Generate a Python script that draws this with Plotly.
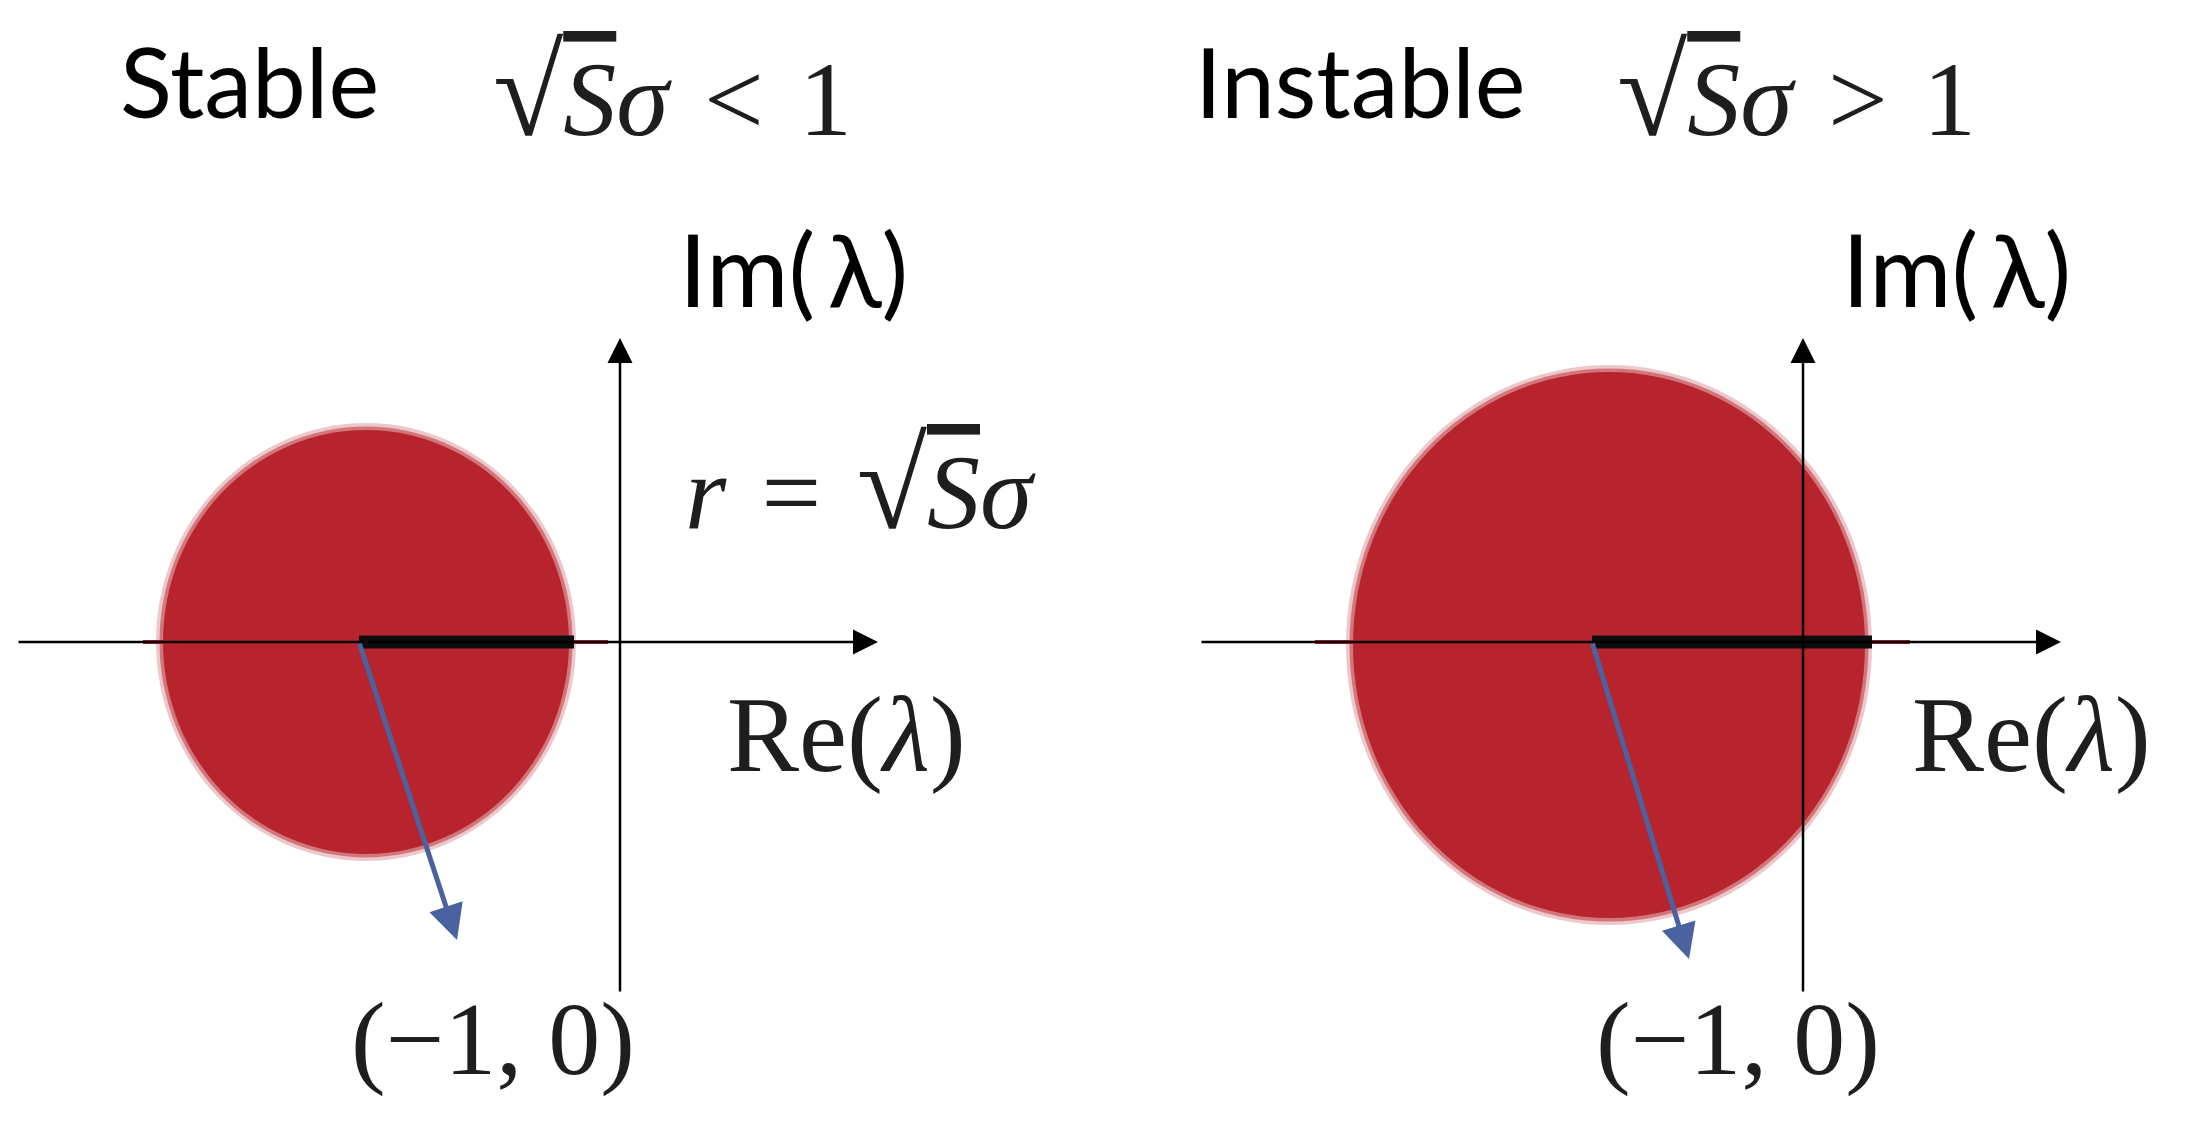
import plotly.graph_objects as go

# ---------------- data (1 unit = 100 px of the original, origin = axis crossing) ----
panel_names = ["Stable", "Instable"]
relations = ["<", ">"]
disk_cx = [-2.54, -1.94]
disk_cy = [0.0, -0.03]
disk_rx = [2.03, 2.56]
disk_ry = [2.12, 2.73]
radius_bar_x0 = [-2.61, -2.11]
radius_bar_x1 = [-0.46, 0.69]
real_line_x0 = [-4.77, -4.88]
real_line_x1 = [-0.12, 1.07]
arrow_tip_x = [-1.63, -1.14]
arrow_tip_y = [-2.98, -3.17]
axis_x_ext = [-6.03, 2.58]
axis_y_ext = [-3.51, 3.04]
point_label = "(−1, 0)"

SQRT_S_SIGMA = ('<span style="font-size:128px">√</span>'
                '<span style="text-decoration:overline"><i>S</i></span><i>σ</i>')
conditions = [SQRT_S_SIGMA + "\u2004" + rel + "\u20041" for rel in relations]
radius_label = "<i>r</i>\u2004=\u2004" + SQRT_S_SIGMA

RED = "#b8242e"
BLUE = "#4a62a0"
SANS = "Lato, 'Noto Sans', sans-serif"
SERIF = "'Liberation Serif', 'DejaVu Serif', serif"
TXT = "#1e1e1e"

W, H = 2178, 1114
fig = go.Figure()

xrefs = ["x", "x2"]
yrefs = ["y", "y2"]

shapes = []
annotations = []

for i in range(2):
    xr, yr = xrefs[i], yrefs[i]
    # eigenvalue disk (soft speckled rim + dense core)
    for pad, op in ((0.07, 0.25), (0.035, 0.5)):
        shapes.append(dict(type="circle", xref=xr, yref=yr, layer="below",
                           x0=disk_cx[i] - disk_rx[i] - pad, x1=disk_cx[i] + disk_rx[i] + pad,
                           y0=disk_cy[i] - disk_ry[i] - pad, y1=disk_cy[i] + disk_ry[i] + pad,
                           fillcolor=RED, opacity=op, line=dict(width=0)))
    shapes.append(dict(type="circle", xref=xr, yref=yr, layer="below",
                       x0=disk_cx[i] - disk_rx[i], x1=disk_cx[i] + disk_rx[i],
                       y0=disk_cy[i] - disk_ry[i], y1=disk_cy[i] + disk_ry[i],
                       fillcolor=RED, line=dict(width=0)))
    # real eigenvalues along the axis
    fig.add_trace(go.Scatter(x=[real_line_x0[i], real_line_x1[i]], y=[0, 0], mode="lines",
                             line=dict(color=RED, width=4), xaxis=xr, yaxis=yr,
                             hoverinfo="skip", showlegend=False))
    # radius bar
    fig.add_trace(go.Scatter(x=[radius_bar_x0[i], radius_bar_x1[i]], y=[0, 0], mode="lines",
                             line=dict(color="#0d0d0d", width=13), xaxis=xr, yaxis=yr,
                             hoverinfo="skip", showlegend=False))
    # axes with arrows
    annotations.append(dict(xref=xr, yref=yr, axref=xr, ayref=yr,
                            x=axis_x_ext[1], y=0, ax=axis_x_ext[0], ay=0, text="",
                            showarrow=True, arrowhead=2, arrowsize=2.0, arrowwidth=2.5,
                            arrowcolor="black"))
    annotations.append(dict(xref=xr, yref=yr, axref=xr, ayref=yr,
                            x=0, y=axis_y_ext[1], ax=0, ay=axis_y_ext[0], text="",
                            showarrow=True, arrowhead=2, arrowsize=2.0, arrowwidth=2.5,
                            arrowcolor="black"))
    # blue arrow
    annotations.append(dict(xref=xr, yref=yr, axref=xr, ayref=yr,
                            x=arrow_tip_x[i], y=arrow_tip_y[i], ax=radius_bar_x0[i], ay=0,
                            text="", showarrow=True, arrowhead=2, arrowsize=1.4,
                            arrowwidth=5, arrowcolor=BLUE))

# text labels
title_x = [-3.71, -4.43]
cond_x = [0.52, -0.07]
im_x = [1.73, 1.53]
re_x = [2.26, 2.28]
pt_x = [-1.27, -0.65]
for i in range(2):
    xr, yr = xrefs[i], yrefs[i]
    annotations.append(dict(xref=xr, yref=yr, x=title_x[i], y=5.62, text=panel_names[i],
                            showarrow=False, xanchor="center", yanchor="middle",
                            font=dict(family=SANS, size=96, color="black")))
    annotations.append(dict(xref=xr, yref=yr, x=cond_x[i], y=5.50, text=conditions[i],
                            showarrow=False, xanchor="center", yanchor="middle",
                            font=dict(family=SERIF, size=106, color=TXT)))
    annotations.append(dict(xref=xr, yref=yr, x=im_x[i], y=3.74, text="Im(\u2009λ)",
                            showarrow=False, xanchor="center", yanchor="middle",
                            font=dict(family=SANS, size=100, color="black")))
    annotations.append(dict(xref=xr, yref=yr, x=re_x[i], y=-0.93, text="Re(<i>λ</i>)",
                            showarrow=False, xanchor="center", yanchor="middle",
                            font=dict(family=SERIF, size=108, color=TXT)))
    annotations.append(dict(xref=xr, yref=yr, x=pt_x[i], y=-3.97, text=point_label,
                            showarrow=False, xanchor="center", yanchor="middle",
                            font=dict(family=SERIF, size=104, color=TXT)))
annotations.append(dict(xref="x", yref="y", x=2.40, y=1.57, text=radius_label,
                        showarrow=False, xanchor="center", yanchor="middle",
                        font=dict(family=SERIF, size=106, color=TXT)))

ax_common = dict(visible=False, showgrid=False, zeroline=False, fixedrange=True)
fig.update_layout(
    width=W, height=H, margin=dict(l=0, r=0, t=0, b=0),
    paper_bgcolor="white", plot_bgcolor="white", showlegend=False,
    xaxis=dict(domain=[0, 0.5], range=[-6.12, 4.77], **ax_common),
    yaxis=dict(domain=[0, 1], range=[-4.80, 6.34], **ax_common),
    xaxis2=dict(domain=[0.5, 1], range=[-7.06, 3.83], anchor="y2", **ax_common),
    yaxis2=dict(domain=[0, 1], range=[-4.80, 6.34], anchor="x2", **ax_common),
    shapes=shapes, annotations=annotations,
)

fig.write_html("out.html")
